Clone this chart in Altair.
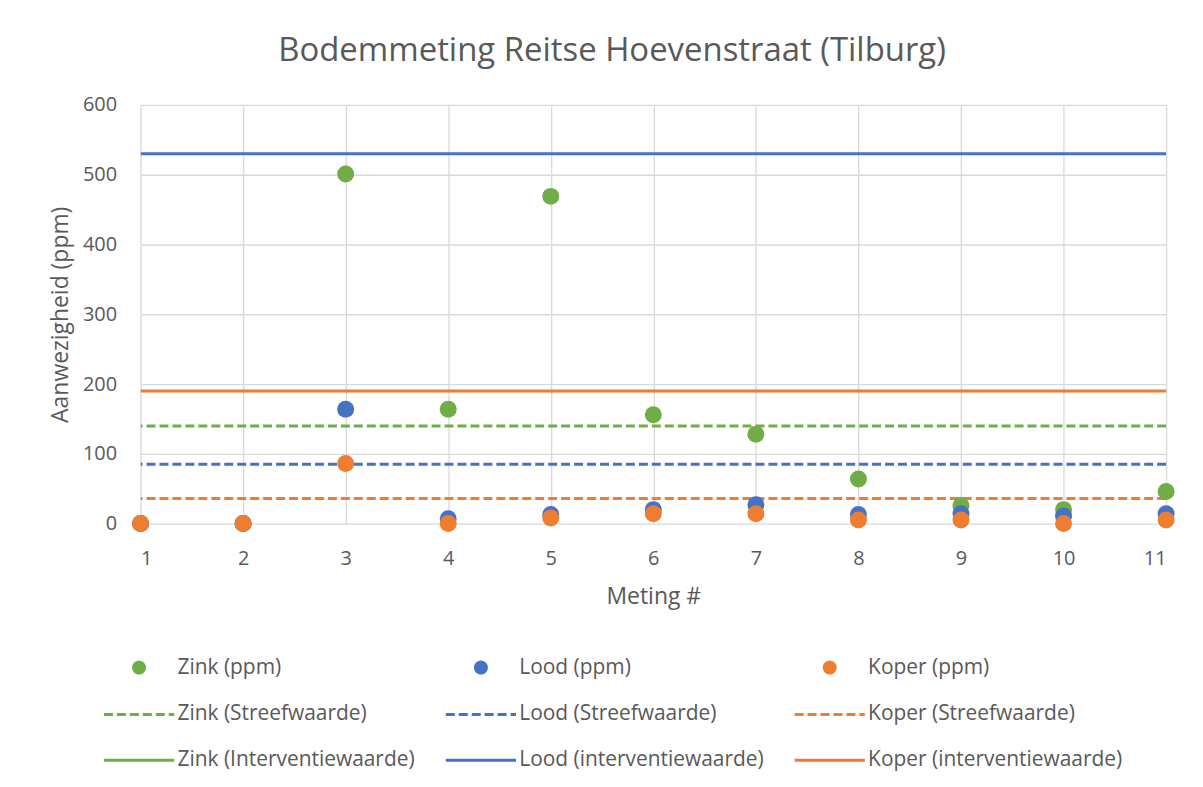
import altair as alt
import pandas as pd

# ---- data ----
metingen = [1, 2, 3, 4, 5, 6, 7, 8, 9, 10, 11]
zink = [0, 0, 501, 164, 469, 156, 128, 64, 26, 20, 46]
lood = [0, 0, 164, 7, 13, 20, 27, 13, 14, 11, 14]
koper = [0, 0, 86, 0, 8, 14, 14, 5, 5, 0, 5]

meet_namen = ["Zink (ppm)", "Lood (ppm)", "Koper (ppm)"]
streef_namen = ["Zink (Streefwaarde)", "Lood (Streefwaarde)", "Koper (Streefwaarde)"]
streef_waarden = [140, 85, 36]
interv_namen = ["Zink (Interventiewaarde)", "Lood (interventiewaarde)", "Koper (interventiewaarde)"]
interv_waarden = [720, 530, 190]

kleuren = ["#70AD47", "#4472C4", "#ED7D31"]

# ---- tables ----
rows = []
for naam, reeks in zip(meet_namen, [zink, lood, koper]):
    for m, v in zip(metingen, reeks):
        rows.append({"meting": m, "waarde": v, "serie": naam})
df_pts = pd.DataFrame(rows)

df_rules = pd.DataFrame({
    "serie": streef_namen + interv_namen,
    "waarde": streef_waarden + interv_waarden,
})

domein = meet_namen + streef_namen + interv_namen
kleur_range = kleuren * 3
lijn_pad = "M-6.4,0H6.4"
shape_range = ["circle"] * 3 + [lijn_pad] * 6
dash_range = [[1, 0]] * 3 + [[9, 4]] * 3 + [[1, 0]] * 3

FONT = "Open Sans"
TXT = "#595959"

legend = alt.Legend(
    title=None, orient="none", legendX=-12, legendY=554, direction="horizontal",
    columns=3, symbolSize=121, symbolStrokeWidth=3, symbolOpacity=1,
    labelFontSize=21, labelColor=TXT, labelFont=FONT, labelLimit=0,
    columnPadding=24, rowPadding=24, labelOffset=28,
)

x_enc = alt.X("meting:Q", title="Meting #",
              scale=alt.Scale(domain=[1, 11], nice=False),
              axis=alt.Axis(values=metingen, format="d", grid=True, domain=False,
                            ticks=False, tickSize=0, labelPadding=25,
                            titlePadding=17))
y_enc = alt.Y("waarde:Q", title="Aanwezigheid (ppm)",
              scale=alt.Scale(domain=[0, 600], nice=False),
              axis=alt.Axis(values=[0, 100, 200, 300, 400, 500, 600], grid=True,
                            domain=False, ticks=False, tickSize=0, labelPadding=24,
                            titlePadding=10))

regels = alt.Chart(df_rules).mark_rule(strokeWidth=3, clip=True).encode(
    y=alt.Y("waarde:Q", scale=alt.Scale(domain=[0, 600], nice=False)),
    stroke=alt.Stroke("serie:N", scale=alt.Scale(domain=domein, range=kleur_range), legend=legend),
    strokeDash=alt.StrokeDash("serie:N", scale=alt.Scale(domain=domein, range=dash_range), legend=legend),
)

punten = alt.Chart(df_pts).mark_point(filled=True, size=290, opacity=1).encode(
    x=x_enc,
    y=y_enc,
    fill=alt.Fill("serie:N", scale=alt.Scale(domain=domein, range=kleur_range), legend=legend),
    shape=alt.Shape("serie:N", scale=alt.Scale(domain=domein, range=shape_range), legend=legend),
)

chart = alt.layer(regels, punten).properties(
    width=1029, height=420,
    padding={"left": 41, "top": 26, "right": 20, "bottom": 10},
    title=alt.TitleParams("Bodemmeting Reitse Hoevenstraat (Tilburg)", fontSize=33,
                          font=FONT, color=TXT, fontWeight="normal", offset=27,
                          frame="bounds", anchor="middle"),
).configure_view(stroke=None).configure_axis(
    gridColor="#D9D9D9", gridWidth=1.3, labelFont=FONT, labelFontSize=20, labelColor=TXT,
    titleFont=FONT, titleFontSize=23, titleColor=TXT, titleFontWeight="normal",
)

chart.save("out.html", embed_options={"renderer": "svg", "actions": False})
